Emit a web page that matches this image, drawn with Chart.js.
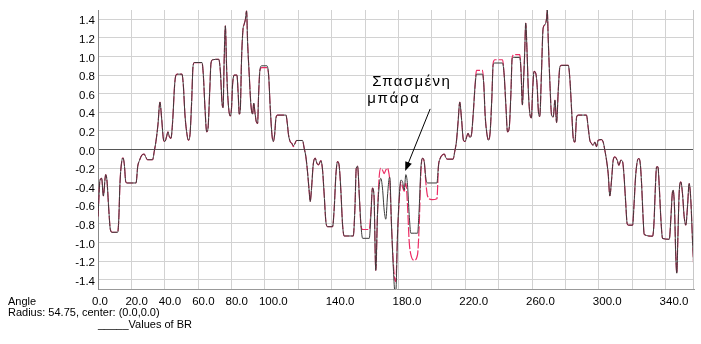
<!DOCTYPE html>
<html><head><meta charset="utf-8">
<script src="https://cdn.jsdelivr.net/npm/chart.js@4.4.1/dist/chart.umd.min.js"></script>
<style>html,body{margin:0;padding:0;background:#fff;}#wrap{position:relative;width:701px;height:344px;}</style>
</head><body><div id="wrap"><canvas id="c" width="701" height="344"></canvas></div>
<script>
// Angle (degrees)
const angles = [
0,1.2,2.2,3.2,4.6,5.4,6.4,7.4,8.4,11.8,12.4,13.2,14.2,15.0,15.8,16.6,17.4,22.8,23.8,24.8,
26.3,27.7,28.7,29.7,32.7,33.7,34.7,35.9,37.1,38.1,39.3,40.1,41.1,41.9,42.7,43.7,44.7,45.9,46.7,47.7,
50.3,51.1,52.1,53.1,54.1,55.1,56.1,56.9,57.7,62.3,63.1,64.1,65.1,65.9,66.9,67.7,68.7,72.3,73.3,74.3,
74.9,75.6,76.3,77.0,77.6,78.4,79.2,80.0,80.6,81.6,83.2,84.0,84.6,85.2,86.0,86.8,87.6,88.3,89.0,89.6,
90.6,91.6,92.6,93.3,94.0,94.8,95.6,96.2,97.0,98.0,101.2,102.2,103.2,104.2,105.0,105.8,106.6,107.6,112.6,113.4,
114.1,115.1,116.1,117.0,118.0,118.9,122.5,123.5,124.5,125.5,126.5,127.1,127.9,128.9,130.1,131.1,132.1,133.5,134.5,135.5,
136.5,137.5,140.5,141.5,142.5,143.5,144.5,145.5,146.5,147.5,152.9,153.9,154.7,155.5,156.5,157.5,158.5,162.5,163.5,164.4,
165.3,166.4,167.4,168.4,169.4,170.4,171.4,172.4,173.4,174.3,174.8,175.8,177.0,177.8,178.4,179.4,180.4,181.4,182.4,183.4,
184.4,185.4,186.4,187.4,189.4,191.4,192.4,193.4,194.4,195.4,196.4,197.4,200.0,203.0,204.0,205.0,206.3,207.5,208.3,209.3,
212.7,213.7,214.7,215.7,216.7,217.7,218.9,219.9,220.9,221.7,222.7,223.7,224.7,225.9,226.7,230.3,231.1,231.9,232.9,233.9,
234.9,235.9,236.7,237.7,242.3,243.3,244.3,245.3,246.3,247.3,248.1,249.3,252.6,253.4,254.2,254.8,255.6,256.2,257.0,257.8,
258.8,259.6,260.4,261.2,262.2,263.0,263.8,264.6,265.6,266.6,267.6,268.7,269.1,269.7,270.7,271.7,272.7,273.7,274.7,275.7,
276.7,277.7,281.7,282.7,283.7,284.7,285.7,286.7,287.7,292.6,293.6,294.6,295.6,296.6,297.6,298.6,299.6,301.6,302.6,303.6,
304.6,305.6,306.6,307.6,308.6,309.6,311.0,312.0,313.2,314.2,315.0,316.0,317.0,318.0,320.2,321.0,322.0,323.2,324.0,324.8,
325.6,326.4,327.2,332.2,333.0,333.8,334.6,335.4,336.2,337.2,338.2,342.2,343.2,344.0,344.5,345.3,346.1,346.7,347.3,348.1,
349.1,350.1,351.1,352.1,353.1,354.1,355.1,356.1,357.0
];
// Values of BR (black, solid)
const brValues = [
-0.72,-0.33,-0.31,-0.50,-0.27,-0.34,-0.63,-0.86,-0.89,-0.89,-0.77,-0.35,-0.13,-0.09,-0.165,-0.345,-0.36,-0.36,-0.18,-0.12,
-0.06,-0.05,-0.085,-0.11,-0.11,-0.02,0.086,0.265,0.51,0.34,0.10,0.086,0.14,0.19,0.14,0.12,0.30,0.695,0.80,0.81,
0.81,0.695,0.37,0.19,0.10,0.16,0.515,0.89,0.935,0.935,0.80,0.44,0.19,0.23,0.62,0.93,0.965,0.97,0.84,0.50,
0.45,0.98,1.33,0.90,0.62,0.42,0.36,0.45,0.695,0.80,0.80,0.59,0.38,0.42,0.98,1.28,1.35,1.40,1.49,1.16,
0.80,0.48,0.38,0.50,0.40,0.30,0.28,0.59,0.855,0.90,0.90,0.80,0.44,0.16,0.086,0.16,0.34,0.37,0.37,0.28,
0.16,0.086,0.066,0.04,0.066,0.097,0.097,0.014,-0.076,-0.24,-0.45,-0.56,-0.42,-0.165,-0.093,-0.147,-0.165,-0.12,-0.22,-0.49,
-0.775,-0.83,-0.83,-0.63,-0.27,-0.13,-0.18,-0.45,-0.81,-0.93,-0.93,-0.63,-0.20,-0.18,-0.49,-0.81,-0.955,-0.955,-0.70,-0.415,
-0.49,-1.30,-0.70,-0.40,-0.31,-0.415,-0.65,-0.75,-0.50,-0.32,-0.30,-0.81,-1.31,-1.52,-1.52,-0.92,-0.52,-0.33,-0.345,-0.435,
-0.27,-0.38,-0.70,-0.90,-0.90,-0.90,-0.63,-0.20,-0.094,-0.13,-0.31,-0.36,-0.36,-0.36,-0.165,-0.094,-0.058,-0.05,-0.086,-0.104,
-0.104,-0.02,0.086,0.30,0.51,0.34,0.10,0.086,0.14,0.175,0.13,0.16,0.37,0.695,0.81,0.81,0.695,0.37,0.175,0.10,
0.19,0.55,0.91,0.93,0.93,0.80,0.48,0.19,0.23,0.59,0.98,0.99,0.99,0.84,0.48,0.695,1.05,1.36,1.05,0.62,
0.37,0.34,0.66,0.84,0.82,0.695,0.41,0.355,0.80,1.30,1.34,1.41,1.50,1.18,0.71,0.37,0.35,0.53,0.29,0.64,
0.89,0.905,0.905,0.745,0.42,0.118,0.08,0.35,0.37,0.37,0.24,0.10,0.065,0.045,0.08,0.03,0.10,0.107,0.08,-0.008,
-0.115,-0.26,-0.50,-0.33,-0.115,-0.08,-0.115,-0.17,-0.115,-0.13,-0.26,-0.545,-0.80,-0.814,-0.814,-0.617,-0.294,-0.115,-0.097,-0.15,
-0.366,-0.69,-0.914,-0.932,-0.80,-0.437,-0.187,-0.187,-0.40,-0.76,-0.957,-0.965,-0.72,-0.473,-0.437,-0.617,-1.15,-1.33,-0.975,-0.473,
-0.348,-0.473,-0.72,-0.814,-0.617,-0.366,-0.545,-0.975,-1.32
];
// Reference values (red, dashed)
const refValues = [
-0.72,-0.33,-0.31,-0.50,-0.27,-0.34,-0.63,-0.86,-0.89,-0.89,-0.77,-0.35,-0.13,-0.09,-0.165,-0.345,-0.36,-0.36,-0.18,-0.12,
-0.06,-0.05,-0.085,-0.11,-0.11,-0.02,0.086,0.265,0.51,0.34,0.10,0.086,0.14,0.19,0.14,0.12,0.30,0.695,0.80,0.81,
0.81,0.695,0.37,0.19,0.10,0.16,0.515,0.89,0.935,0.935,0.80,0.44,0.19,0.23,0.62,0.93,0.965,0.97,0.84,0.50,
0.45,0.98,1.33,0.90,0.62,0.42,0.36,0.45,0.695,0.80,0.80,0.59,0.38,0.42,0.98,1.28,1.35,1.40,1.49,1.16,
0.80,0.48,0.38,0.50,0.40,0.30,0.28,0.59,0.85,0.88,0.88,0.80,0.44,0.16,0.086,0.16,0.34,0.37,0.37,0.28,
0.16,0.086,0.066,0.03,0.066,0.097,0.097,0.014,-0.076,-0.24,-0.45,-0.56,-0.42,-0.165,-0.093,-0.147,-0.165,-0.12,-0.22,-0.49,
-0.775,-0.83,-0.83,-0.63,-0.27,-0.13,-0.18,-0.45,-0.81,-0.93,-0.93,-0.63,-0.20,-0.18,-0.49,-0.81,-0.86,-0.86,-0.66,-0.415,
-0.49,-1.30,-0.70,-0.30,-0.20,-0.22,-0.26,-0.22,-0.20,-0.26,-0.35,-0.81,-1.25,-1.40,-1.42,-0.92,-0.56,-0.35,-0.40,-0.45,
-0.36,-0.60,-0.99,-1.13,-1.19,-1.13,-0.81,-0.25,-0.094,-0.13,-0.36,-0.50,-0.54,-0.53,-0.165,-0.094,-0.058,-0.05,-0.086,-0.104,
-0.104,-0.02,0.086,0.30,0.51,0.34,0.10,0.086,0.14,0.175,0.13,0.16,0.37,0.695,0.85,0.85,0.695,0.37,0.175,0.10,
0.19,0.55,0.93,0.965,0.965,0.80,0.48,0.19,0.23,0.59,0.99,1.02,1.02,0.84,0.48,0.695,1.05,1.36,1.05,0.62,
0.37,0.34,0.66,0.84,0.82,0.695,0.41,0.355,0.80,1.30,1.34,1.41,1.50,1.18,0.71,0.37,0.35,0.53,0.29,0.64,
0.89,0.905,0.905,0.745,0.42,0.118,0.08,0.35,0.37,0.37,0.24,0.10,0.065,0.045,0.08,0.03,0.10,0.107,0.08,-0.008,
-0.115,-0.26,-0.50,-0.33,-0.115,-0.08,-0.115,-0.17,-0.115,-0.13,-0.26,-0.545,-0.80,-0.814,-0.814,-0.617,-0.294,-0.115,-0.097,-0.15,
-0.366,-0.69,-0.914,-0.932,-0.80,-0.437,-0.187,-0.187,-0.40,-0.76,-0.957,-0.965,-0.72,-0.473,-0.437,-0.617,-1.15,-1.33,-0.975,-0.473,
-0.348,-0.473,-0.72,-0.814,-0.617,-0.366,-0.545,-0.975,-1.32
];
const xTickValues = [0,20,40,60,80,100,120,140,160,180,200,220,240,260,280,300,320,340];
const xTickLabels = ['0.0','20.0','40.0','60.0','80.0','100.0','','140.0','','180.0','','220.0','','260.0','','300.0','','340.0'];
const yTickValues = [-1.4,-1.2,-1.0,-0.8,-0.6,-0.4,-0.2,0,0.2,0.4,0.6,0.8,1.0,1.2,1.4];
const yTickLabels = ['-1.4','-1.2','-1.0','-0.8','-0.6','-0.4','-0.2','0.0','0.2','0.4','0.6','0.8','1.0','1.2','1.4'];
const footerLines = ['Angle','Radius: 54.75, center: (0.0,0.0)','_____Values of BR'];
const noteLines = ['Σπασμένη','μπάρα'];
const notePoint = {x:184, y:-0.23};

const FONT = '"Liberation Sans", Arial, sans-serif';
Chart.defaults.font.family = FONT;
Chart.defaults.color = '#000';

const extras = {
  id:'extras',
  afterDatasetsDraw(chart){
    const {ctx, chartArea:a, scales:{x,y}} = chart;
    ctx.save();
    ctx.strokeStyle='#c8c8c8'; ctx.lineWidth=1;
    ctx.beginPath(); ctx.moveTo(a.right-0.5,a.top); ctx.lineTo(a.right-0.5,a.bottom); ctx.stroke();
    const tx = x.getPixelForValue(notePoint.x), ty = y.getPixelForValue(notePoint.y);
    const sx = tx+25, sy = ty-62;
    const ang = Math.atan2(ty-sy, tx-sx);
    ctx.strokeStyle='#000'; ctx.fillStyle='#000';
    ctx.beginPath(); ctx.moveTo(sx,sy); ctx.lineTo(tx-Math.cos(ang)*6,ty-Math.sin(ang)*6); ctx.stroke();
    const L=9, W=3.5;
    ctx.beginPath(); ctx.moveTo(tx,ty);
    ctx.lineTo(tx-L*Math.cos(ang)+W*Math.sin(ang), ty-L*Math.sin(ang)-W*Math.cos(ang));
    ctx.lineTo(tx-L*Math.cos(ang)-W*Math.sin(ang), ty-L*Math.sin(ang)+W*Math.cos(ang));
    ctx.closePath(); ctx.fill();
    ctx.font = '15px '+FONT; ctx.textAlign='left'; ctx.textBaseline='alphabetic';
    ctx.letterSpacing = '1.4px';
    ctx.fillText(noteLines[0], tx-33, ty-85);
    ctx.letterSpacing = '1.8px';
    ctx.fillText(noteLines[1], tx-38, ty-68);
    ctx.letterSpacing = '0px';
    ctx.restore();
  },
  afterDraw(chart){
    const {ctx} = chart;
    ctx.save();
    ctx.font = '11px '+FONT; ctx.fillStyle='#000'; ctx.textAlign='left'; ctx.textBaseline='alphabetic';
    ctx.fillText(footerLines[0], 8, 305);
    ctx.fillText(footerLines[1], 8, 316);
    ctx.fillText(footerLines[2], 98, 328);
    ctx.restore();
  }
};

new Chart(document.getElementById('c'), {
  type:'line',
  data:{
    datasets:[
      {label:'Values of BR', data: angles.map((a,i)=>({x:a,y:brValues[i]})), borderColor:'#3a3a3a', borderWidth:1, pointRadius:0, cubicInterpolationMode:'monotone', fill:false},
      {label:'Reference', data: angles.map((a,i)=>({x:a,y:refValues[i]})), borderColor:'#ec2c64', borderWidth:1.2, borderDash:[10,2], pointRadius:0, cubicInterpolationMode:'monotone', fill:false}
    ]
  },
  options:{
    responsive:false, animation:false, devicePixelRatio:1,
    layout:{padding:{top:10,right:7,left:0,bottom:0}},
    plugins:{legend:{display:false}, tooltip:{enabled:false}},
    scales:{
      x:{type:'linear', min:0, max:357,
        afterBuildTicks:s=>{s.ticks = xTickValues.map(v=>({value:v}));},
        afterFit:s=>{s.height=55;},
        ticks:{autoSkip:false, maxRotation:0, align:'start', labelOffset:-6, padding:6, font:{size:11.5},
          callback:(v)=>{const i=xTickValues.indexOf(v); return i>=0?xTickLabels[i]:'';}},
        grid:{color:'#d2d2d2', drawTicks:false},
        border:{color:'#999'}
      },
      y:{min:-1.5, max:1.5,
        afterBuildTicks:s=>{s.ticks = yTickValues.map(v=>({value:v}));},
        afterFit:s=>{s.width=98;},
        ticks:{padding:3, labelOffset:2, font:{size:11.5},
          callback:(v)=>{const i=yTickValues.findIndex(t=>Math.abs(t-v)<1e-9); return i>=0?yTickLabels[i]:'';}},
        grid:{color:(c)=> (c.tick && Math.abs(c.tick.value)<1e-9) ? '#555' : '#d2d2d2', drawTicks:false},
        border:{color:'#888'}
      }
    }
  },
  plugins:[extras]
});
</script></body></html>
